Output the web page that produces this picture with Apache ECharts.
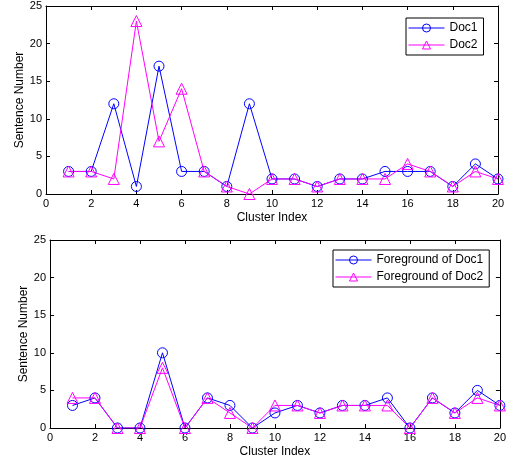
<!DOCTYPE html>
<html>
<head>
<meta charset="utf-8">
<script src="https://cdn.jsdelivr.net/npm/echarts@6/dist/echarts.min.js"></script>
<style>html,body{margin:0;padding:0;background:#fff}#c{width:509px;height:459px}</style>
</head>
<body>
<div id="c"></div>
<script>
const clusters = [1,2,3,4,5,6,7,8,9,10,11,12,13,14,15,16,17,18,19,20];
const doc1 = [3,3,12,1,17,3,3,1,12,2,2,1,2,2,3,3,3,1,4,2];
const doc2 = [3,3,2,23,7,14,3,1,0,2,2,1,2,2,2,4,3,1,3,2];
const fgDoc1 = [3,4,0,0,10,0,4,3,0,2,3,2,3,3,4,0,4,2,5,3];
const fgDoc2 = [4,4,0,0,8,0,4,2,0,3,3,2,3,3,3,0,4,2,4,3];
const xTicks = {min:0, max:20, interval:2};
const yTicks = {min:0, max:25, interval:5};

const FONT = 'Liberation Sans, Arial, sans-serif';
const BLUE = '#0000ff', MAG = '#ff00ff';
const pairs = (xs, ys) => xs.map((x,i)=>[x, ys[i]]);

function xAx(gi, bottom) {
  return {
    type:'value', gridIndex:gi, position: bottom?'bottom':'top',
    min:xTicks.min, max:xTicks.max, interval:xTicks.interval,
    name: bottom ? 'Cluster Index' : '', nameLocation:'middle', nameGap:18,
    nameMoveOverlap:false,
    nameTextStyle:{fontFamily:FONT, fontSize:12, color:'#000'},
    axisLine:{show:true, onZero:false, lineStyle:{color:'#000', width:1}},
    axisTick:{show:true, inside:true, length:4, lineStyle:{color:'#000'}},
    axisLabel:{show:bottom, fontFamily:FONT, fontSize:11, color:'#000', margin:4},
    splitLine:{show:false}
  };
}
function yAx(gi, left) {
  return {
    type:'value', gridIndex:gi, position: left?'left':'right',
    min:yTicks.min, max:yTicks.max, interval:yTicks.interval,
    name: left ? 'Sentence Number' : '', nameLocation:'middle', nameGap:20,
    nameMoveOverlap:false,
    nameTextStyle:{fontFamily:FONT, fontSize:12, color:'#000'},
    axisLine:{show:true, onZero:false, lineStyle:{color:'#000', width:1}},
    axisTick:{show:true, inside:true, length:4, lineStyle:{color:'#000'}},
    axisLabel:{show:left, fontFamily:FONT, fontSize:11, color:'#000', margin:4},
    splitLine:{show:false}
  };
}
function ser(name, data, color, symbol, xi, yi) {
  return {
    type:'line', name, data, xAxisIndex:xi, yAxisIndex:yi,
    symbol, symbolSize: symbol==='circle'?10:11, showAllSymbol:true,
    color,
    lineStyle:{color, width:1},
    itemStyle:{color:'rgba(0,0,0,0)', borderColor:color, borderWidth:1},
    emphasis:{disabled:true}, animation:false
  };
}
function leg(names, left, top) {
  return {
    data: names, orient:'vertical', left, top,
    backgroundColor:'#fff', borderColor:'#000', borderWidth:1,
    padding:[4,6,4,2], itemGap:5, itemWidth:36, itemHeight:10,
    lineStyle:{width:1}, itemStyle:{borderWidth:1},
    textStyle:{fontFamily:FONT, fontSize:12, color:'#000'},
    selectedMode:false
  };
}

const chart = echarts.init(document.getElementById('c'), null, {renderer:'canvas'});
chart.setOption({
  animation:false,
  grid:[
    {left:46, top:6, width:452, height:188},
    {left:50, top:240, width:451, height:192}
  ],
  xAxis:[xAx(0,true), xAx(0,false), xAx(1,true), xAx(1,false)],
  yAxis:[yAx(0,true), yAx(0,false), yAx(1,true), yAx(1,false)],
  legend:[
    leg(['Doc1','Doc2'], 406, 18),
    leg(['Foreground of Doc1','Foreground of Doc2'], 333, 250)
  ],
  series:[
    ser('Doc1', pairs(clusters, doc1), BLUE, 'circle', 0, 0),
    ser('Doc2', pairs(clusters, doc2), MAG, 'triangle', 0, 0),
    ser('Foreground of Doc1', pairs(clusters, fgDoc1), BLUE, 'circle', 2, 2),
    ser('Foreground of Doc2', pairs(clusters, fgDoc2), MAG, 'triangle', 2, 2)
  ]
});
</script>
</body>
</html>
